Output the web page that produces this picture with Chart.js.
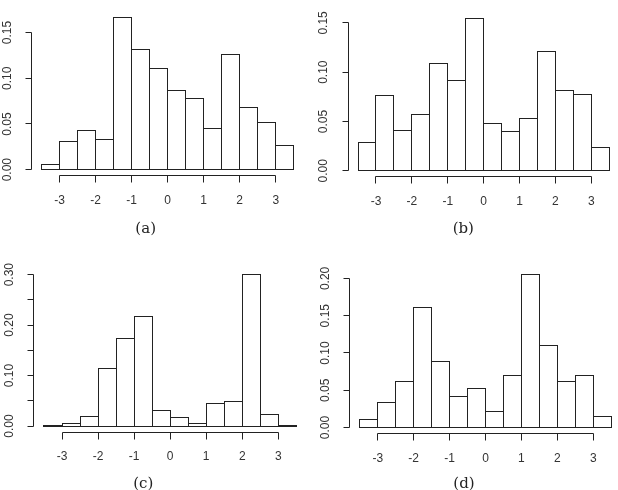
<!DOCTYPE html>
<html>
<head>
<meta charset="utf-8">
<script src="https://cdn.jsdelivr.net/npm/chart.js@4"></script>
<style>
  html, body { margin: 0; padding: 0; background: #fff; overflow: hidden; }
  #wrap { position: relative; width: 618px; height: 490px; overflow: hidden; }
  #wrap canvas { position: absolute; }
  .cap {
    position: absolute;
    font-family: 'DejaVu Serif', serif;
    font-size: 15px;
    color: #222;
    transform: translate(-50%, -50%);
    white-space: nowrap;
  }
</style>
</head>
<body>
<div id="wrap"></div>
<script>
// histogram bins: 14 bins of width 0.5 from -3.5 to 3.5
const binEdges = [-3.5, -3, -2.5, -2, -1.5, -1, -0.5, 0, 0.5, 1, 1.5, 2, 2.5, 3, 3.5];
const binMids = [-3.25, -2.75, -2.25, -1.75, -1.25, -0.75, -0.25, 0.25, 0.75, 1.25, 1.75, 2.25, 2.75, 3.25];
const xTicks = [-3, -2, -1, 0, 1, 2, 3];
const xLabels = ['-3', '-2', '-1', '0', '1', '2', '3'];

// densities
const densityA = [0.006, 0.031, 0.043, 0.033, 0.167, 0.131, 0.111, 0.087, 0.078, 0.045, 0.126, 0.068, 0.052, 0.026];
const densityB = [0.029, 0.076, 0.041, 0.057, 0.109, 0.092, 0.154, 0.048, 0.040, 0.053, 0.121, 0.081, 0.077, 0.024];
const densityC = [0.002, 0.005, 0.019, 0.114, 0.174, 0.218, 0.030, 0.016, 0.005, 0.045, 0.049, 0.301, 0.023, 0.0015];
const densityD = [0.011, 0.034, 0.062, 0.161, 0.088, 0.041, 0.052, 0.022, 0.070, 0.205, 0.110, 0.062, 0.070, 0.015];

const yTicksAB = [0, 0.05, 0.1, 0.15];
const yLabelsAB = ['0.00', '0.05', '0.10', '0.15'];
const yTicksC = [0, 0.05, 0.1, 0.15, 0.2, 0.25, 0.3];
const yLabelsC = ['0.00', '', '0.10', '', '0.20', '', '0.30'];
const yTicksD = [0, 0.05, 0.1, 0.15, 0.2];
const yLabelsD = ['0.00', '0.05', '0.10', '0.15', '0.20'];

const captions = ['(a)', '(b)', '(c)', '(d)'];

const INK = '#222';
const TEXT = '#333';

// plot regions (page px) and caption centres
const layout = [
  { box: { left: 31.6, top: 10.9, right: 303.8, bottom: 175.8 }, cap: [145.7, 228.3] },
  { box: { left: 348, top: 12.9, right: 619.3, bottom: 176.8 }, cap: [463.3, 228.3] },
  { box: { left: 33.9, top: 268.1, right: 306.4, bottom: 432.1 }, cap: [143.3, 483] },
  { box: { left: 349.7, top: 268.6, right: 621.3, bottom: 433.6 }, cap: [464, 482.7] },
];

const panels = [
  { density: densityA, yTicks: yTicksAB, yLabels: yLabelsAB },
  { density: densityB, yTicks: yTicksAB, yLabels: yLabelsAB },
  { density: densityC, yTicks: yTicksC, yLabels: yLabelsC },
  { density: densityD, yTicks: yTicksD, yLabels: yLabelsD },
];

const wrap = document.querySelector('#wrap');
const snap = (v) => Math.round(v - 0.5) + 0.5;

function makePanel(p, i) {
  const { box, cap } = layout[i];
  const x0 = i % 2 ? 309 : 0;
  const y0 = i < 2 ? 0 : 245;
  const W = 320;
  const H = 245;

  const canvas = document.createElement('canvas');
  canvas.width = W;
  canvas.height = H;
  canvas.style.left = `${x0}px`;
  canvas.style.top = `${y0}px`;
  canvas.style.width = `${W}px`;
  canvas.style.height = `${H}px`;
  wrap.append(canvas);

  const ymax = Math.max(...p.density);
  const xr = binEdges[binEdges.length - 1] - binEdges[0];

  // R-style detached axes and bar outlines
  const rStyle = {
    id: 'rStyle',
    afterDraw(chart) {
      const { ctx, chartArea } = chart;
      const xs = chart.scales.x;
      const ys = chart.scales.y;
      ctx.save();
      ctx.strokeStyle = INK;
      ctx.lineWidth = 1;

      // bar outlines (stroked on the edges so shared sides stay single)
      const meta = chart.getDatasetMeta(0);
      meta.data.forEach((bar) => {
        const { x, y, base, width } = bar.getProps(['x', 'y', 'base', 'width'], true);
        const l = snap(x - width / 2);
        const r = snap(x + width / 2);
        const t = snap(y);
        const b = snap(base);
        ctx.strokeRect(l, t, r - l, b - t);
      });

      // x axis
      const ay = snap(chartArea.bottom);
      ctx.beginPath();
      ctx.moveTo(snap(xs.getPixelForValue(xTicks[0])), ay);
      ctx.lineTo(snap(xs.getPixelForValue(xTicks[xTicks.length - 1])), ay);
      xTicks.forEach((v) => {
        const px = snap(xs.getPixelForValue(v));
        ctx.moveTo(px, ay);
        ctx.lineTo(px, ay + 7);
      });
      // y axis
      const ax = snap(chartArea.left);
      ctx.moveTo(ax, snap(ys.getPixelForValue(p.yTicks[0])));
      ctx.lineTo(ax, snap(ys.getPixelForValue(p.yTicks[p.yTicks.length - 1])));
      p.yTicks.forEach((v) => {
        const py = snap(ys.getPixelForValue(v));
        ctx.moveTo(ax, py);
        ctx.lineTo(ax - 6, py);
      });
      ctx.stroke();

      ctx.fillStyle = TEXT;
      ctx.font = '12px "Liberation Sans", Arial, sans-serif';
      ctx.textAlign = 'center';
      ctx.textBaseline = 'middle';
      xTicks.forEach((v, k) => {
        ctx.fillText(xLabels[k], xs.getPixelForValue(v), chartArea.bottom + 25);
      });
      p.yTicks.forEach((v, k) => {
        if (!p.yLabels[k]) return;
        ctx.save();
        ctx.translate(chartArea.left - 24, ys.getPixelForValue(v));
        ctx.rotate(-Math.PI / 2);
        ctx.fillText(p.yLabels[k], 0, 0);
        ctx.restore();
      });
      ctx.restore();
    },
  };

  // eslint-disable-next-line no-undef
  new Chart(canvas, {
    type: 'bar',
    data: {
      datasets: [
        {
          data: binMids.map((x, k) => ({ x, y: p.density[k] })),
          backgroundColor: '#fff',
          borderWidth: 0,
          barPercentage: 1,
          categoryPercentage: 1,
        },
      ],
    },
    options: {
      responsive: false,
      animation: false,
      events: [],
      layout: {
        padding: {
          left: box.left - x0,
          top: box.top - y0,
          right: x0 + W - box.right,
          bottom: y0 + H - box.bottom,
        },
      },
      plugins: { legend: { display: false }, tooltip: { enabled: false } },
      scales: {
        x: {
          type: 'linear',
          display: false,
          offset: false,
          grid: { offset: false },
          min: binEdges[0] - 0.04 * xr,
          max: binEdges[binEdges.length - 1] + 0.04 * xr,
          afterBuildTicks: (s) => {
            s.ticks = xTicks.map((v) => ({ value: v }));
          },
        },
        y: { display: false, min: -0.04 * ymax, max: 1.04 * ymax },
      },
    },
    plugins: [rStyle],
  });

  const c = document.createElement('div');
  c.className = 'cap';
  c.textContent = captions[i];
  c.style.left = `${cap[0]}px`;
  c.style.top = `${cap[1]}px`;
  wrap.append(c);
}

panels.forEach(makePanel);
</script>
</body>
</html>
